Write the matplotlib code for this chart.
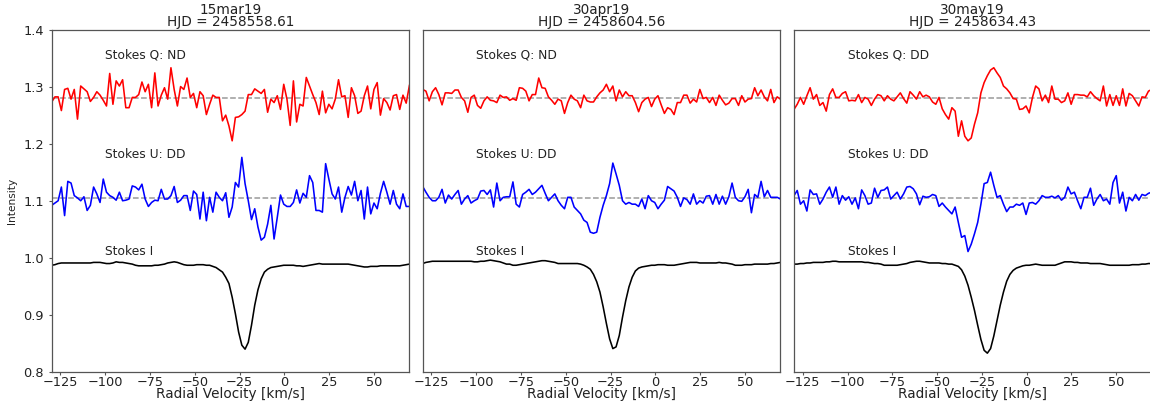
import numpy as np
import matplotlib
matplotlib.use("Agg")
import matplotlib.pyplot as plt

# LSD velocity grid (km/s), 1.8 km/s bins
velocity = np.round(-129.9 + 1.8 * np.arange(112), 1)

nights = ["15mar19", "30apr19", "30may19"]
hjd = ["2458558.61", "2458604.56", "2458634.43"]
q_labels = ["Stokes Q: ND", "Stokes Q: ND", "Stokes Q: DD"]
u_labels = ["Stokes U: DD", "Stokes U: DD", "Stokes U: DD"]

# zero levels of the shifted Stokes Q and U profiles
q_level = 1.28
u_level = 1.105

q_15mar = [1.273, 1.282, 1.282, 1.258, 1.295, 1.297, 1.278, 1.295, 1.243, 1.301,
           1.296, 1.291, 1.274, 1.281, 1.291, 1.285, 1.276, 1.266, 1.323, 1.269,
           1.310, 1.301, 1.312, 1.263, 1.263, 1.281, 1.281, 1.286, 1.308, 1.291,
           1.304, 1.263, 1.324, 1.266, 1.285, 1.298, 1.278, 1.333, 1.295, 1.266,
           1.300, 1.295, 1.315, 1.281, 1.288, 1.263, 1.291, 1.284, 1.251, 1.269,
           1.285, 1.281, 1.281, 1.240, 1.250, 1.231, 1.205, 1.246, 1.247, 1.251,
           1.257, 1.286, 1.286, 1.296, 1.292, 1.288, 1.295, 1.255, 1.278, 1.272,
           1.284, 1.260, 1.304, 1.278, 1.232, 1.310, 1.238, 1.269, 1.266, 1.316,
           1.301, 1.286, 1.272, 1.251, 1.292, 1.254, 1.269, 1.261, 1.278, 1.312,
           1.282, 1.284, 1.246, 1.298, 1.284, 1.253, 1.257, 1.284, 1.301, 1.261,
           1.295, 1.307, 1.250, 1.279, 1.272, 1.259, 1.284, 1.286, 1.260, 1.285,
           1.271, 1.302]
u_15mar = [1.092, 1.096, 1.100, 1.124, 1.074, 1.134, 1.131, 1.109, 1.105, 1.100,
           1.107, 1.083, 1.092, 1.124, 1.112, 1.097, 1.138, 1.115, 1.109, 1.106,
           1.101, 1.115, 1.100, 1.101, 1.103, 1.126, 1.124, 1.119, 1.129, 1.103,
           1.090, 1.097, 1.101, 1.100, 1.120, 1.103, 1.103, 1.109, 1.125, 1.097,
           1.101, 1.109, 1.109, 1.083, 1.117, 1.111, 1.068, 1.115, 1.065, 1.106,
           1.080, 1.115, 1.106, 1.100, 1.114, 1.071, 1.089, 1.132, 1.124, 1.176,
           1.130, 1.100, 1.067, 1.086, 1.054, 1.031, 1.036, 1.059, 1.092, 1.033,
           1.071, 1.110, 1.094, 1.090, 1.090, 1.097, 1.119, 1.096, 1.113, 1.106,
           1.144, 1.132, 1.083, 1.083, 1.080, 1.165, 1.138, 1.112, 1.103, 1.124,
           1.080, 1.106, 1.125, 1.110, 1.134, 1.100, 1.118, 1.068, 1.124, 1.077,
           1.096, 1.086, 1.113, 1.134, 1.115, 1.094, 1.118, 1.094, 1.086, 1.112,
           1.090, 1.090]
i_15mar = [0.987, 0.988, 0.990, 0.991, 0.991, 0.991, 0.991, 0.991, 0.991, 0.991,
           0.991, 0.991, 0.991, 0.992, 0.992, 0.992, 0.991, 0.990, 0.990, 0.991,
           0.993, 0.992, 0.992, 0.991, 0.990, 0.989, 0.987, 0.986, 0.986, 0.986,
           0.986, 0.986, 0.987, 0.987, 0.988, 0.989, 0.991, 0.992, 0.993, 0.992,
           0.990, 0.988, 0.987, 0.987, 0.987, 0.988, 0.988, 0.988, 0.987, 0.987,
           0.985, 0.983, 0.979, 0.975, 0.966, 0.955, 0.931, 0.902, 0.870, 0.847,
           0.840, 0.852, 0.882, 0.917, 0.944, 0.963, 0.975, 0.980, 0.983, 0.984,
           0.985, 0.986, 0.987, 0.987, 0.987, 0.987, 0.986, 0.986, 0.985, 0.986,
           0.987, 0.988, 0.989, 0.990, 0.989, 0.989, 0.989, 0.989, 0.989, 0.989,
           0.989, 0.989, 0.989, 0.988, 0.987, 0.986, 0.985, 0.984, 0.984, 0.985,
           0.985, 0.985, 0.986, 0.986, 0.986, 0.986, 0.986, 0.986, 0.986, 0.987,
           0.988, 0.989]

q_30apr = [1.295, 1.292, 1.275, 1.291, 1.298, 1.286, 1.268, 1.289, 1.289, 1.288,
           1.294, 1.294, 1.281, 1.275, 1.255, 1.281, 1.285, 1.267, 1.262, 1.275,
           1.282, 1.276, 1.275, 1.272, 1.285, 1.281, 1.282, 1.276, 1.279, 1.276,
           1.298, 1.297, 1.292, 1.275, 1.286, 1.286, 1.315, 1.298, 1.297, 1.282,
           1.276, 1.269, 1.278, 1.275, 1.253, 1.272, 1.285, 1.278, 1.275, 1.263,
           1.285, 1.275, 1.273, 1.273, 1.282, 1.289, 1.294, 1.304, 1.291, 1.301,
           1.275, 1.294, 1.282, 1.291, 1.284, 1.284, 1.272, 1.256, 1.272, 1.278,
           1.281, 1.265, 1.278, 1.284, 1.268, 1.253, 1.263, 1.260, 1.251, 1.272,
           1.272, 1.285, 1.285, 1.271, 1.278, 1.273, 1.295, 1.279, 1.281, 1.272,
           1.281, 1.267, 1.285, 1.276, 1.268, 1.271, 1.279, 1.279, 1.267, 1.284,
           1.273, 1.278, 1.279, 1.298, 1.284, 1.294, 1.282, 1.275, 1.295, 1.272,
           1.282, 1.278]
u_30apr = [1.125, 1.115, 1.106, 1.100, 1.100, 1.106, 1.120, 1.096, 1.110, 1.103,
           1.111, 1.118, 1.094, 1.103, 1.109, 1.096, 1.100, 1.103, 1.117, 1.118,
           1.111, 1.119, 1.089, 1.131, 1.100, 1.106, 1.107, 1.107, 1.133, 1.094,
           1.089, 1.111, 1.115, 1.120, 1.111, 1.115, 1.121, 1.127, 1.113, 1.100,
           1.106, 1.112, 1.100, 1.092, 1.086, 1.106, 1.106, 1.089, 1.083, 1.077,
           1.066, 1.062, 1.045, 1.043, 1.045, 1.071, 1.092, 1.109, 1.130, 1.166,
           1.147, 1.127, 1.100, 1.094, 1.097, 1.094, 1.094, 1.090, 1.103, 1.086,
           1.109, 1.100, 1.097, 1.086, 1.094, 1.101, 1.125, 1.121, 1.117, 1.106,
           1.090, 1.105, 1.102, 1.094, 1.112, 1.094, 1.100, 1.096, 1.108, 1.109,
           1.094, 1.111, 1.094, 1.108, 1.094, 1.107, 1.131, 1.106, 1.100, 1.099,
           1.107, 1.120, 1.079, 1.111, 1.106, 1.134, 1.107, 1.118, 1.106, 1.106,
           1.106, 1.103]
i_30apr = [0.990, 0.992, 0.993, 0.994, 0.994, 0.994, 0.994, 0.994, 0.994, 0.994,
           0.994, 0.994, 0.994, 0.994, 0.994, 0.994, 0.993, 0.993, 0.994, 0.994,
           0.995, 0.996, 0.995, 0.994, 0.993, 0.991, 0.989, 0.989, 0.987, 0.987,
           0.988, 0.989, 0.990, 0.991, 0.992, 0.993, 0.994, 0.995, 0.995, 0.994,
           0.993, 0.992, 0.990, 0.990, 0.990, 0.990, 0.990, 0.990, 0.990, 0.989,
           0.987, 0.984, 0.980, 0.971, 0.958, 0.940, 0.914, 0.885, 0.858, 0.841,
           0.844, 0.864, 0.896, 0.925, 0.949, 0.966, 0.977, 0.982, 0.984, 0.985,
           0.986, 0.987, 0.987, 0.988, 0.988, 0.988, 0.987, 0.987, 0.987, 0.988,
           0.989, 0.990, 0.991, 0.992, 0.992, 0.992, 0.991, 0.991, 0.991, 0.991,
           0.991, 0.991, 0.992, 0.991, 0.991, 0.990, 0.989, 0.987, 0.987, 0.987,
           0.988, 0.988, 0.988, 0.989, 0.989, 0.989, 0.989, 0.989, 0.990, 0.990,
           0.991, 0.992]

q_30may = [1.260, 1.269, 1.281, 1.269, 1.284, 1.298, 1.278, 1.286, 1.267, 1.272,
           1.257, 1.286, 1.296, 1.281, 1.281, 1.288, 1.291, 1.275, 1.276, 1.275,
           1.286, 1.272, 1.281, 1.278, 1.267, 1.278, 1.286, 1.284, 1.275, 1.284,
           1.278, 1.275, 1.282, 1.289, 1.279, 1.271, 1.291, 1.285, 1.278, 1.291,
           1.282, 1.285, 1.282, 1.273, 1.269, 1.281, 1.261, 1.251, 1.243, 1.263,
           1.257, 1.213, 1.240, 1.213, 1.205, 1.210, 1.234, 1.254, 1.289, 1.307,
           1.319, 1.329, 1.333, 1.324, 1.316, 1.301, 1.296, 1.289, 1.279, 1.278,
           1.260, 1.261, 1.266, 1.254, 1.281, 1.301, 1.296, 1.275, 1.285, 1.272,
           1.301, 1.278, 1.278, 1.272, 1.275, 1.289, 1.269, 1.286, 1.286, 1.285,
           1.285, 1.282, 1.291, 1.284, 1.279, 1.275, 1.301, 1.266, 1.286, 1.267,
           1.284, 1.267, 1.296, 1.266, 1.288, 1.284, 1.275, 1.266, 1.282, 1.281,
           1.292, 1.295]
u_30may = [1.109, 1.118, 1.094, 1.100, 1.082, 1.119, 1.111, 1.112, 1.094, 1.103,
           1.115, 1.124, 1.106, 1.124, 1.094, 1.109, 1.101, 1.107, 1.094, 1.105,
           1.086, 1.119, 1.109, 1.094, 1.096, 1.122, 1.106, 1.118, 1.119, 1.124,
           1.103, 1.109, 1.115, 1.103, 1.112, 1.124, 1.125, 1.121, 1.112, 1.093,
           1.108, 1.106, 1.107, 1.111, 1.109, 1.090, 1.096, 1.089, 1.083, 1.077,
           1.089, 1.062, 1.036, 1.039, 1.011, 1.024, 1.042, 1.062, 1.094, 1.130,
           1.132, 1.150, 1.127, 1.106, 1.109, 1.094, 1.081, 1.089, 1.089, 1.094,
           1.092, 1.096, 1.076, 1.096, 1.097, 1.094, 1.100, 1.109, 1.106, 1.106,
           1.108, 1.105, 1.109, 1.101, 1.106, 1.124, 1.112, 1.115, 1.100, 1.086,
           1.106, 1.106, 1.122, 1.092, 1.103, 1.111, 1.100, 1.103, 1.094, 1.132,
           1.144, 1.096, 1.115, 1.082, 1.106, 1.100, 1.111, 1.101, 1.111, 1.109,
           1.113, 1.115]
i_30may = [0.989, 0.989, 0.990, 0.990, 0.991, 0.991, 0.992, 0.992, 0.992, 0.992,
           0.993, 0.993, 0.994, 0.994, 0.993, 0.993, 0.993, 0.993, 0.993, 0.993,
           0.993, 0.993, 0.992, 0.992, 0.991, 0.990, 0.990, 0.989, 0.987, 0.987,
           0.987, 0.987, 0.987, 0.988, 0.989, 0.990, 0.992, 0.993, 0.994, 0.994,
           0.993, 0.992, 0.991, 0.991, 0.991, 0.991, 0.990, 0.990, 0.989, 0.989,
           0.987, 0.985, 0.979, 0.968, 0.952, 0.931, 0.908, 0.882, 0.857, 0.838,
           0.833, 0.841, 0.863, 0.890, 0.917, 0.940, 0.959, 0.971, 0.978, 0.982,
           0.984, 0.986, 0.987, 0.987, 0.988, 0.989, 0.988, 0.987, 0.987, 0.987,
           0.987, 0.987, 0.989, 0.991, 0.993, 0.993, 0.993, 0.992, 0.992, 0.991,
           0.991, 0.991, 0.990, 0.990, 0.990, 0.990, 0.989, 0.988, 0.987, 0.987,
           0.987, 0.987, 0.987, 0.987, 0.987, 0.988, 0.988, 0.988, 0.989, 0.989,
           0.990, 0.990]

stokes_q = [q_15mar, q_30apr, q_30may]
stokes_u = [u_15mar, u_30apr, u_30may]
stokes_i = [i_15mar, i_30apr, i_30may]

x_ticks = [-125, -100, -75, -50, -25, 0, 25, 50]
y_ticks = [0.8, 0.9, 1.0, 1.1, 1.2, 1.3, 1.4]

plt.rcParams["font.family"] = ["DejaVu Sans"]
text_color = "#222222"
spine_color = "#555555"

fig = plt.figure(figsize=(11.5, 4.01), dpi=100)
panel_left = [0.04496, 0.36757, 0.69043]
panel_w, panel_b, panel_h = 0.31043, 0.07232, 0.85411

for k in range(3):
    ax = fig.add_axes([panel_left[k], panel_b, panel_w, panel_h])
    ax.axhline(q_level, color="#9a9a9a", ls="--", lw=1.1, zorder=1)
    ax.axhline(u_level, color="#9a9a9a", ls="--", lw=1.1, zorder=1)
    ax.plot(velocity, stokes_q[k], color="red", lw=1.15, zorder=2)
    ax.plot(velocity, stokes_u[k], color="blue", lw=1.15, zorder=2)
    ax.plot(velocity, stokes_i[k], color="black", lw=1.15, zorder=2)

    ax.text(-100, 1.35, q_labels[k], fontsize=8.8, color=text_color)
    ax.text(-100, 1.175, u_labels[k], fontsize=8.8, color=text_color)
    ax.text(-100, 1.005, "Stokes I", fontsize=8.8, color=text_color)

    ax.set_xlim(-129.9, 69.5)
    ax.set_ylim(0.8, 1.4)
    ax.set_xticks(x_ticks)
    ax.set_yticks(y_ticks)
    ax.set_title(f"{nights[k]}\nHJD = {hjd[k]}", fontsize=9.8, color=text_color,
                 pad=2.5, linespacing=0.85)
    ax.set_xlabel("Radial Velocity [km/s]", fontsize=9.8, color=text_color,
                  labelpad=-1.5)
    ax.tick_params(axis="x", length=2, pad=1, labelsize=9.3,
                   colors=spine_color, labelcolor=text_color)
    if k == 0:
        ax.tick_params(axis="y", length=2.5, pad=3.0, labelsize=9.3,
                       colors=spine_color, labelcolor=text_color)
    else:
        ax.tick_params(axis="y", length=0, labelleft=False)
    for sp in ax.spines.values():
        sp.set_color(spine_color)
        sp.set_linewidth(0.9)

fig.text(0.0104, 0.5, "Intensity", rotation=90, ha="center", va="center",
         fontsize=7.6, color=text_color)

fig.savefig("out.png", dpi=100)
